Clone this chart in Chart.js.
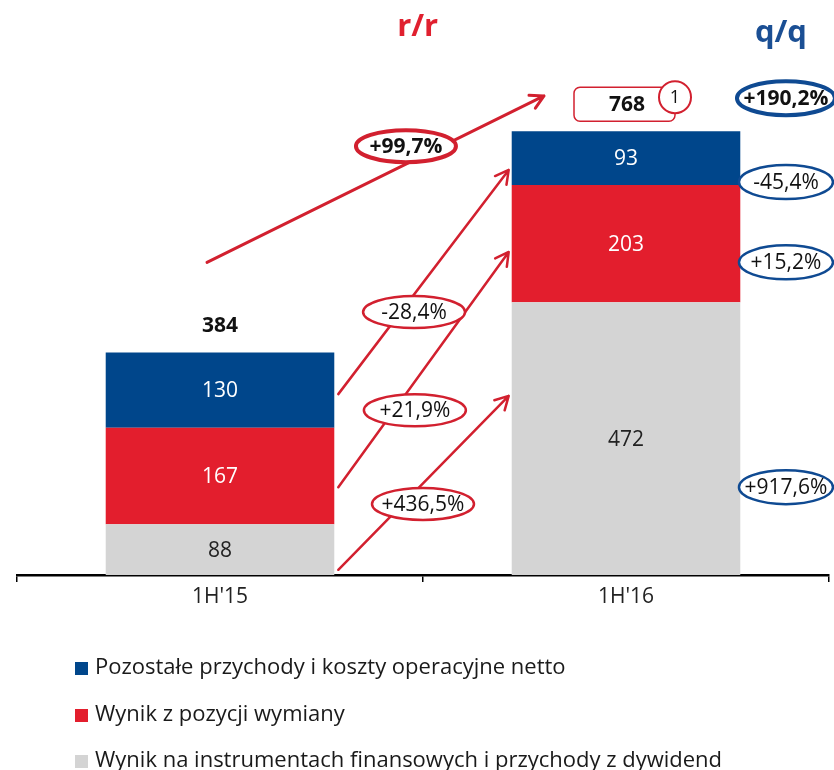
<!DOCTYPE html>
<html>
<head>
<meta charset="utf-8">
<script src="https://cdn.jsdelivr.net/npm/chart.js@4"></script>
<style>
  html, body { margin: 0; padding: 0; background: #fff; }
  #wrap { width: 834px; height: 770px; position: relative; }
</style>
</head>
<body>
<div id="wrap"><canvas id="c" width="834" height="770"></canvas></div>
<script>
// Categories and stacked series (mln PLN)
const categories = ["1H'15", "1H'16"];
const seriesNames = [
  'Wynik na instrumentach finansowych i przychody z dywidend',
  'Wynik z pozycji wymiany',
  'Pozostałe przychody i koszty operacyjne netto'
];
const instrumenty = [88, 472];
const wymiana = [167, 203];
const pozostale = [130, 93];
const totals = [384, 768];

// Year-on-year (r/r) and quarter-on-quarter (q/q) changes
const rrSegments = ['+436,5%', '+21,9%', '-28,4%'];
const rrTotal = '+99,7%';
const qqSegments = ['+917,6%', '+15,2%', '-45,4%'];
const qqTotal = '+190,2%';
const footnote = '1';

const COLORS = {
  gray: '#d4d4d4',
  red: '#e31e2d',
  blue: '#00468b',
  arrow: '#d2202f',
  qq: '#0f4a92'
};
const FONT = 'Open Sans';

// Segment values written inside the bars
const segmentLabels = {
  id: 'segmentLabels',
  afterDatasetsDraw(chart) {
    const ctx = chart.ctx;
    ctx.save();
    ctx.textAlign = 'center';
    ctx.textBaseline = 'middle';
    ctx.font = `21px "${FONT}"`;
    chart.data.datasets.forEach((ds, di) => {
      const meta = chart.getDatasetMeta(di);
      meta.data.forEach((el, i) => {
        ctx.fillStyle = ds.labelColor;
        ctx.fillText(String(ds.data[i]), el.x, (el.y + el.base) / 2 + 1);
      });
    });
    ctx.restore();
  }
};

function arrow(ctx, x1, y1, x2, y2, color, width) {
  const ang = Math.atan2(y2 - y1, x2 - x1);
  const head = 15, spread = 0.5;
  ctx.save();
  ctx.strokeStyle = color;
  ctx.lineWidth = width;
  ctx.lineCap = 'round';
  ctx.lineJoin = 'round';
  ctx.beginPath();
  ctx.moveTo(x1, y1);
  ctx.lineTo(x2, y2);
  ctx.moveTo(x2 - head * Math.cos(ang - spread), y2 - head * Math.sin(ang - spread));
  ctx.lineTo(x2, y2);
  ctx.lineTo(x2 - head * Math.cos(ang + spread), y2 - head * Math.sin(ang + spread));
  ctx.stroke();
  ctx.restore();
}

function bubble(ctx, cx, cy, rx, ry, text, color, lw, bold) {
  ctx.save();
  ctx.beginPath();
  ctx.ellipse(cx, cy, rx, ry, 0, 0, Math.PI * 2);
  ctx.fillStyle = '#fff';
  ctx.fill();
  ctx.strokeStyle = color;
  ctx.lineWidth = lw;
  ctx.stroke();
  ctx.fillStyle = '#111';
  ctx.textAlign = 'center';
  ctx.textBaseline = 'middle';
  ctx.font = `${bold ? 'bold ' : ''}21px "${FONT}"`;
  ctx.fillText(text, cx, cy + 1);
  ctx.restore();
}

// Arrows, change bubbles, totals, headers and legend
const annotations = {
  id: 'annotations',
  afterDraw(chart) {
    const ctx = chart.ctx;
    const xs = chart.scales.x, ys = chart.scales.y;
    const px = v => xs.getPixelForValue(v);
    const py = v => ys.getPixelForValue(v);
    const top = chart.getDatasetMeta(2).data;
    const b0 = top[0], b1 = top[1];
    const r0 = b0.x + b0.width / 2 + 4;
    const l1 = b1.x - b1.width / 2 - 3;

    // r/r arrows between matching segments
    const arrowsY = [[9, 310], [152, 559], [313, 701]];
    arrowsY.forEach(([a, b]) => arrow(ctx, r0, py(a), l1, py(b), COLORS.arrow, 2.5));
    arrow(ctx, px(-0.032), py(541), px(0.798), py(829), COLORS.arrow, 3);

    // r/r bubbles
    const rrPos = [[0.5, 123], [0.48, 285], [0.478, 455]];
    rrPos.forEach(([i, v], k) => bubble(ctx, px(i), py(v), 51, 16, rrSegments[k], COLORS.arrow, 2.5, false));
    bubble(ctx, px(0.458), py(742), 50, 16, rrTotal, COLORS.arrow, 4, true);

    // q/q bubbles
    const qx = px(1.394);
    const qqPos = [152, 541, 680];
    qqPos.forEach((v, k) => bubble(ctx, qx, py(v), 47, 17, qqSegments[k], COLORS.qq, 2.5, false));
    bubble(ctx, qx, py(825), 49, 17, qqTotal, COLORS.qq, 4, true);

    // total of the first bar
    ctx.save();
    ctx.fillStyle = '#111';
    ctx.textAlign = 'center';
    ctx.textBaseline = 'middle';
    ctx.font = `bold 21px "${FONT}"`;
    ctx.fillText(String(totals[0]), b0.x, py(totals[0]) - 27);
    ctx.restore();

    // total of the second bar in a framed box with a footnote marker
    const boxB = py(totals[1]) - 10;
    const boxT = boxB - 34;
    const boxL = b1.x - 52, boxR = b1.x + 49;
    ctx.save();
    ctx.beginPath();
    ctx.roundRect(boxL, boxT, boxR - boxL, boxB - boxT, 6);
    ctx.fillStyle = '#fff';
    ctx.fill();
    ctx.strokeStyle = COLORS.arrow;
    ctx.lineWidth = 1.5;
    ctx.stroke();
    ctx.fillStyle = '#111';
    ctx.textAlign = 'center';
    ctx.textBaseline = 'middle';
    ctx.font = `bold 21px "${FONT}"`;
    ctx.fillText(String(totals[1]), b1.x + 1, (boxT + boxB) / 2 + 1);
    ctx.beginPath();
    ctx.arc(boxR, boxT + 10, 16, 0, Math.PI * 2);
    ctx.fillStyle = '#fff';
    ctx.fill();
    ctx.lineWidth = 2;
    ctx.stroke();
    ctx.fillStyle = '#111';
    ctx.font = `18px "${FONT}"`;
    ctx.fillText(footnote, boxR, boxT + 11);
    ctx.restore();

    // column headers
    ctx.save();
    ctx.textAlign = 'center';
    ctx.textBaseline = 'middle';
    ctx.font = `bold 31px "${FONT}"`;
    ctx.fillStyle = '#e0202f';
    ctx.fillText('r/r', px(0.487), 27);
    ctx.fillStyle = '#1b4f94';
    ctx.fillText('q/q', qx - 5, 33);
    ctx.restore();

    // legend (top of stack first)
    ctx.save();
    ctx.textAlign = 'left';
    ctx.textBaseline = 'middle';
    ctx.font = `22px "${FONT}"`;
    const rows = [668, 715, 761];
    [2, 1, 0].forEach((di, r) => {
      const ds = chart.data.datasets[di];
      ctx.fillStyle = ds.backgroundColor;
      ctx.fillRect(75, rows[r] - 6, 13, 13);
      ctx.fillStyle = '#1a1a1a';
      ctx.fillText(ds.label, 95, rows[r]);
    });
    ctx.restore();
  }
};

new Chart(document.getElementById('c'), {
  type: 'bar',
  data: {
    labels: categories,
    datasets: [
      { label: seriesNames[0], data: instrumenty, backgroundColor: COLORS.gray, labelColor: '#222' },
      { label: seriesNames[1], data: wymiana, backgroundColor: COLORS.red, labelColor: '#fff' },
      { label: seriesNames[2], data: pozostale, backgroundColor: COLORS.blue, labelColor: '#fff' }
    ]
  },
  options: {
    responsive: false,
    animation: false,
    devicePixelRatio: 1,
    datasets: { bar: { categoryPercentage: 1, barPercentage: 0.563, borderWidth: 0 } },
    layout: { padding: { top: 26, left: 17, right: 5, bottom: 161 } },
    plugins: { legend: { display: false }, tooltip: { enabled: false } },
    scales: {
      x: {
        stacked: true,
        grid: { offset: true, drawOnChartArea: false, drawTicks: true, tickLength: 7, color: '#000', lineWidth: 1.5 },
        border: { display: true, color: '#000', width: 2.5 },
        ticks: { font: { family: FONT, size: 21 }, color: '#222', padding: 2 },
        afterFit: s => { s.height = 34; }
      },
      y: { stacked: true, display: false, min: 0, max: 950 }
    }
  },
  plugins: [segmentLabels, annotations]
});
</script>
</body>
</html>
